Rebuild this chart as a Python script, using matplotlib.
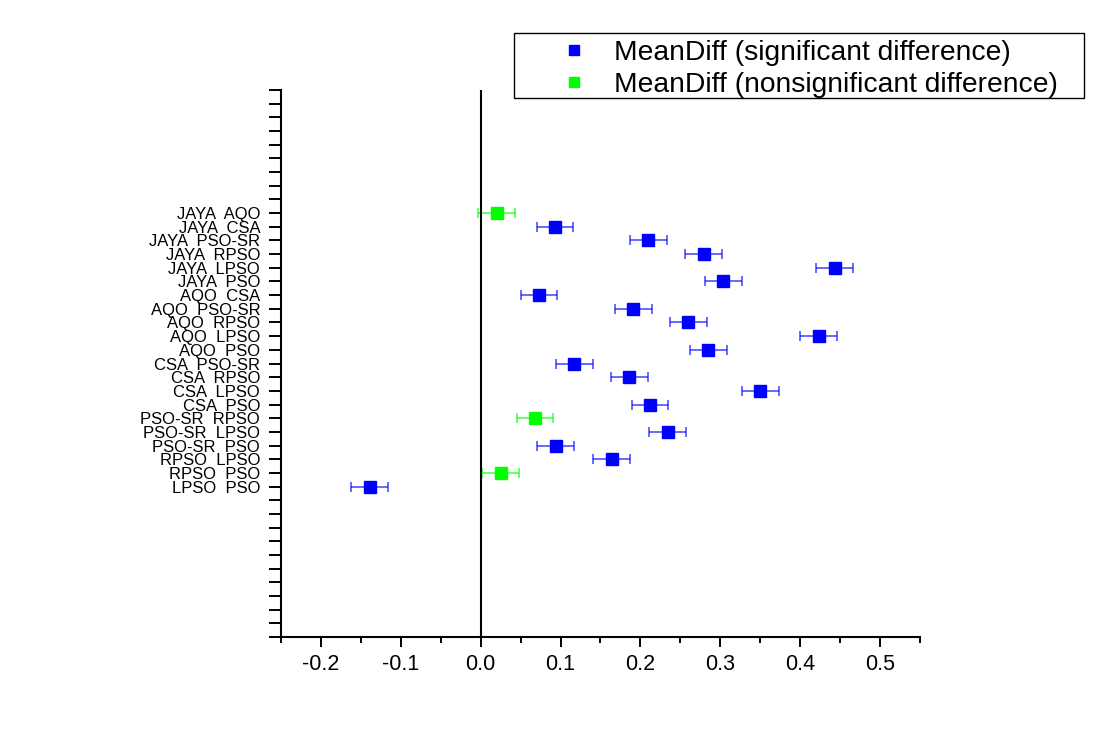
import numpy as np
import matplotlib
matplotlib.use('Agg')
import matplotlib.pyplot as plt
from matplotlib.lines import Line2D
from matplotlib.patches import Rectangle

plt.rcParams['font.family'] = ['Liberation Sans', 'DejaVu Sans']

# pares comparados (de arriba hacia abajo)
pares = ['JAYA  AQO', 'JAYA  CSA', 'JAYA  PSO-SR', 'JAYA  RPSO', 'JAYA  LPSO', 'JAYA  PSO',
         'AQO  CSA', 'AQO  PSO-SR', 'AQO  RPSO', 'AQO  LPSO', 'AQO  PSO',
         'CSA  PSO-SR', 'CSA  RPSO', 'CSA  LPSO', 'CSA  PSO',
         'PSO-SR  RPSO', 'PSO-SR  LPSO', 'PSO-SR  PSO',
         'RPSO  LPSO', 'RPSO  PSO', 'LPSO  PSO']
mean_diff = [0.020, 0.093, 0.210, 0.279, 0.443, 0.304,
             0.073, 0.191, 0.260, 0.423, 0.285,
             0.117, 0.186, 0.350, 0.212,
             0.068, 0.234, 0.094,
             0.164, 0.025, -0.139]
err = [0.023, 0.023, 0.023, 0.023, 0.023, 0.023,
       0.023, 0.023, 0.023, 0.023, 0.023,
       0.023, 0.023, 0.023, 0.023,
       0.023, 0.023, 0.023,
       0.023, 0.023, 0.023]
significativo = [False, True, True, True, True, True,
                 True, True, True, True, True,
                 True, True, True, True,
                 False, True, True,
                 True, False, True]

fig = plt.figure(figsize=(10.96, 7.53), dpi=100)
ax = fig.add_axes([0.2564, 0.154, 0.583, 0.7265])

pos = np.arange(31, 31 - len(pares), -1)
for y, m, e, s in zip(pos, mean_diff, err, significativo):
    c = '#0000ff' if s else '#00ff00'
    ax.errorbar(m, y, xerr=e, fmt='none', ecolor=c, elinewidth=1.1,
                capsize=3.6, capthick=1.1, alpha=0.75, zorder=2)
    ax.plot(m, y, 's', color=c, markersize=8.8, zorder=3)

ax.axvline(0, color='black', lw=1.5)

ax.set_xlim(-0.25, 0.55)
ax.set_ylim(0, 40)
ax.set_xticks(np.arange(-0.2, 0.51, 0.1))
ax.set_xticklabels(['-0.2', '-0.1', '0.0', '0.1', '0.2', '0.3', '0.4', '0.5'])
ax.set_xticks(np.arange(-0.25, 0.551, 0.05), minor=True)

ticks_y = np.arange(0, 41)
etiquetas = [''] * len(ticks_y)
for y, p in zip(pos, pares):
    etiquetas[y] = p
ax.set_yticks(ticks_y)
ax.set_yticklabels(etiquetas, fontsize=12)

ax.tick_params(axis='x', which='major', length=7.5, width=1.4, labelsize=15.5, pad=5)
ax.tick_params(axis='x', which='minor', length=4, width=1.4)
ax.tick_params(axis='y', length=9, width=1.4, pad=6)

for lado in ['top', 'right']:
    ax.spines[lado].set_visible(False)
for lado in ['left', 'bottom']:
    ax.spines[lado].set_linewidth(1.5)

# recuadro de la leyenda
fig.patches.append(Rectangle((514 / 1096, 1 - 98 / 753), 570 / 1096, 65 / 753,
                             transform=fig.transFigure, fill=False,
                             edgecolor='black', linewidth=1.0))
handles = [Line2D([], [], ls='none', marker='s', color='#0000ff', markersize=7),
           Line2D([], [], ls='none', marker='s', color='#00ff00', markersize=7)]
fig.legend(handles, ['MeanDiff (significant difference)', 'MeanDiff (nonsignificant difference)'],
           loc='upper left', bbox_to_anchor=(532 / 1096, 1 - 26 / 753), fontsize=20.3,
           frameon=False, borderpad=0, handlelength=2.0, handletextpad=0.41,
           labelspacing=0.2)

fig.savefig('out.png', dpi=100)
